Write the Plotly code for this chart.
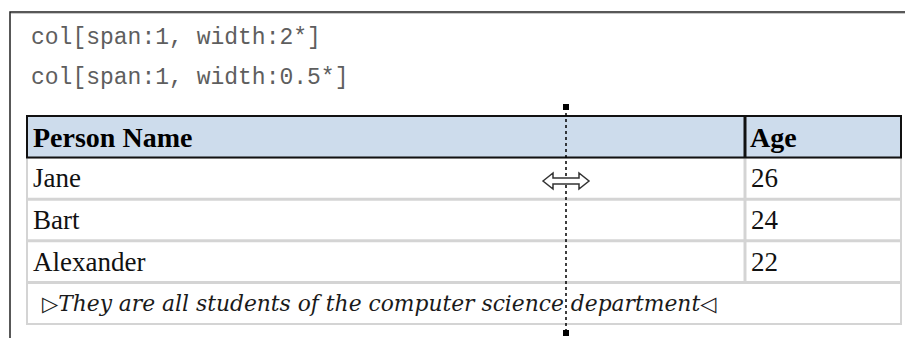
import plotly.graph_objects as go

# Table content
col_specs = ["col[span:1, width:2*]", "col[span:1, width:0.5*]"]
header_labels = ["Person Name", "Age"]
names = ["Jane", "Bart", "Alexander"]
ages = [26, 24, 22]
caption = "They are all students of the computer science department"

# Layout constants (pixel space of the editor view)
W, H = 913, 338
PAGE_MARGIN = 8  # default <body> margin of the html page
TABLE_LEFT, TABLE_RIGHT = 27, 901
COL_SPLIT = 745
TABLE_TOP = 116
ROW_H = 41.6
GAP = 3
GRID = "#d4d4d4"
HEADER_FILL = "#cddcec"
DRAG_X = 566
SERIF = "Liberation Serif, Times New Roman, serif"


def rect(fig, x0, y0, x1, y1, fill, line_color=None, line_width=0):
    fig.add_shape(
        type="rect", xref="x", yref="y", x0=x0, y0=y0, x1=x1, y1=y1,
        fillcolor=fill, line=dict(color=line_color or fill, width=line_width),
        layer="above",
    )


def cell_text(fig, x, y, text, size=27, color="#111", family=SERIF):
    fig.add_annotation(
        x=x, y=y, xref="x", yref="y", text=text, showarrow=False,
        xanchor="left", yanchor="middle",
        font=dict(family=family, size=size, color=color),
    )


fig = go.Figure()

# editor frame (left + top edges)
fig.add_shape(type="path", xref="x", yref="y",
              path=f"M 10,{H} L 10,12 L {W},12",
              line=dict(color="#222", width=1.5), layer="above")
fig.add_shape(type="line", xref="x", yref="y", x0=11, y0=13.5, x1=W, y1=13.5,
              line=dict(color="#c8c8c8", width=1), layer="above")

# col spec lines
for i, spec in enumerate(col_specs):
    cell_text(fig, 29, 38 + 40 * i, spec, size=23, color="#5e5e5e",
              family="Liberation Mono, Courier New, monospace")

# body rows: gray background with white cells (cellspacing look)
n_rows = len(names) + 1  # + caption row
body_top = TABLE_TOP + ROW_H
body_bottom = body_top + ROW_H * n_rows
rect(fig, TABLE_LEFT - 1, body_top - 1, TABLE_RIGHT + 1, body_bottom + 1, GRID)
for r in range(n_rows):
    y0 = body_top + r * ROW_H + GAP / 2
    y1 = body_top + (r + 1) * ROW_H - GAP / 2
    if r == 0:
        y0 = body_top + 1
    if r == n_rows - 1:
        y1 = body_bottom - 1
    if r < len(names):
        rect(fig, TABLE_LEFT + 1, y0, COL_SPLIT - GAP / 2, y1, "white")
        rect(fig, COL_SPLIT + GAP / 2, y0, TABLE_RIGHT - 1, y1, "white")
        yc = (y0 + y1) / 2
        cell_text(fig, TABLE_LEFT + 4, yc, names[r])
        cell_text(fig, COL_SPLIT + 4, yc, str(ages[r]))
    else:
        rect(fig, TABLE_LEFT + 1, y0, TABLE_RIGHT - 1, y1, "white")
        yc = (y0 + y1) / 2
        cell_text(
            fig, TABLE_LEFT + 13, yc,
            "<span style='font-size:21px;font-family:DejaVu Sans;font-style:normal'>▷</span>"
            f"<i>{caption}</i>"
            "<span style='font-size:21px;font-family:DejaVu Sans;font-style:normal'>◁</span>",
            size=21.8, color="#1a1a1a", family="DejaVu Serif, serif",
        )

# header row
rect(fig, TABLE_LEFT, TABLE_TOP, TABLE_RIGHT, TABLE_TOP + ROW_H, HEADER_FILL,
     line_color="#111", line_width=2)
fig.add_shape(type="line", xref="x", yref="y", x0=COL_SPLIT, x1=COL_SPLIT,
              y0=TABLE_TOP, y1=TABLE_TOP + ROW_H,
              line=dict(color="#111", width=3), layer="above")
cell_text(fig, TABLE_LEFT + 4, TABLE_TOP + ROW_H / 2 + 1,
          f"<b>{header_labels[0]}</b>", size=28, color="#000")
cell_text(fig, COL_SPLIT + 3, TABLE_TOP + ROW_H / 2 + 1,
          f"<b>{header_labels[1]}</b>", size=28, color="#000")

# column resize guide
drag_top, drag_bottom = 107, 333
fig.add_shape(type="line", xref="x", yref="y", x0=DRAG_X, x1=DRAG_X,
              y0=drag_top, y1=drag_bottom,
              line=dict(color="#000", width=1.5, dash="dot"), layer="above")
for yy in (drag_top, drag_bottom):
    rect(fig, DRAG_X - 3, yy - 3, DRAG_X + 3, yy + 3, "#000")

# resize cursor
cx, cy = DRAG_X, 181
pts = [(-23, 0), (-13, -8), (-13, -3), (13, -3), (13, -8), (23, 0),
       (13, 8), (13, 3), (-13, 3), (-13, 8)]
path = "M " + " L ".join(f"{cx + dx},{cy + dy}" for dx, dy in pts) + " Z"
fig.add_shape(type="path", xref="x", yref="y", path=path,
              fillcolor="white", line=dict(color="#333", width=1.5), layer="above")

# the page body adds an 8px margin, so shift the axes to keep window pixels aligned
fig.update_xaxes(range=[PAGE_MARGIN, W], visible=False, fixedrange=True)
fig.update_yaxes(range=[H, PAGE_MARGIN], visible=False, fixedrange=True)
fig.update_layout(
    width=W - PAGE_MARGIN, height=H - PAGE_MARGIN,
    margin=dict(l=0, r=0, t=0, b=0),
    plot_bgcolor="white", paper_bgcolor="white",
    showlegend=False,
)

fig.write_html("out.html", config={"displayModeBar": False})
